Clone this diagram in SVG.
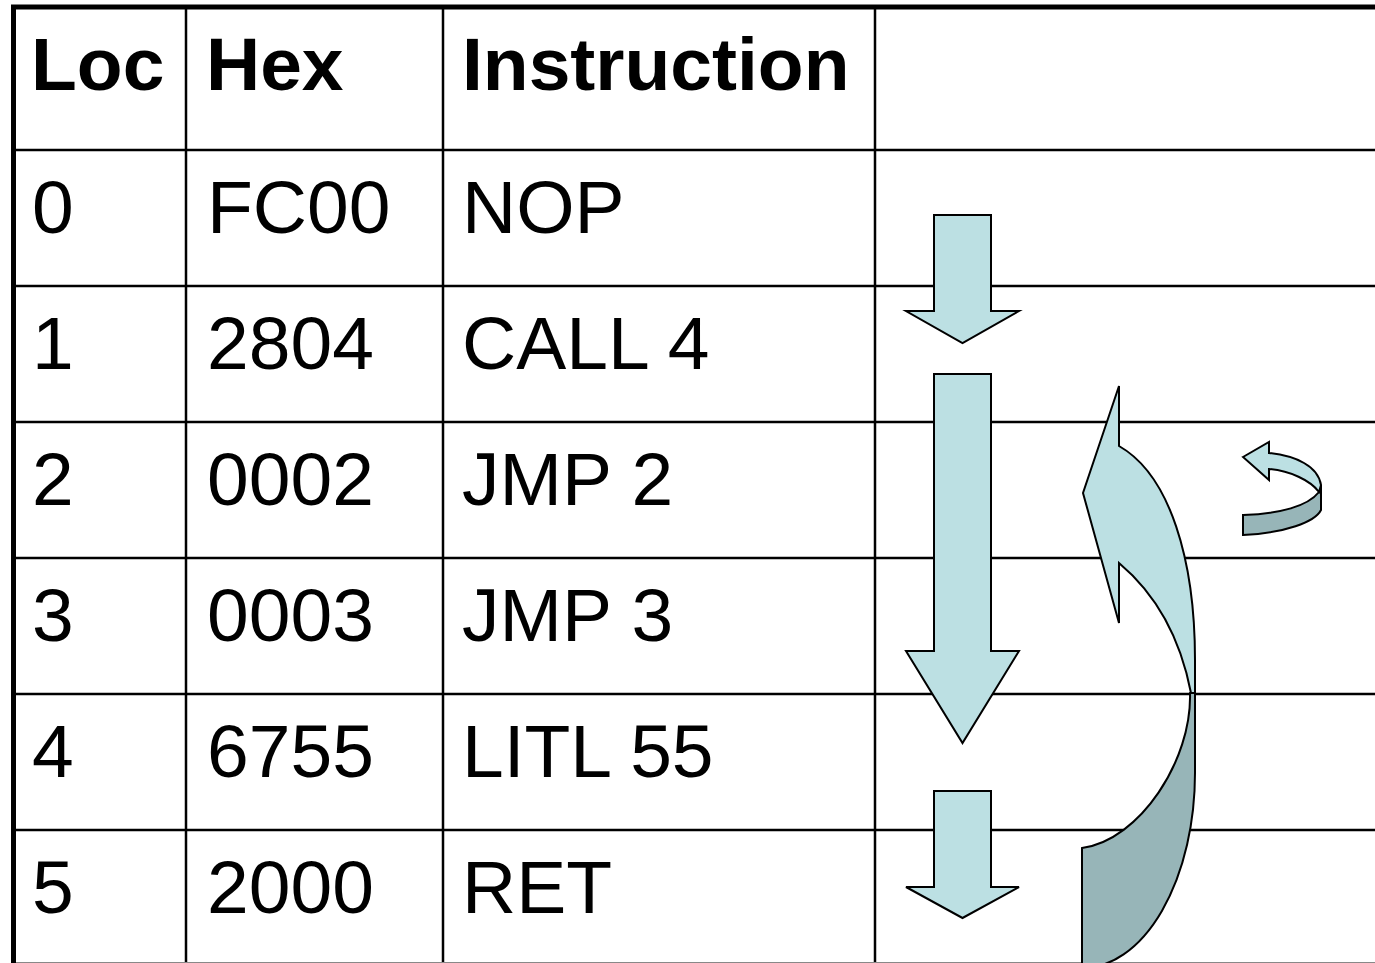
<svg xmlns="http://www.w3.org/2000/svg" width="1375" height="963" viewBox="0 0 1375 963">
<style>
.grid{stroke:#000;stroke-width:2.5;fill:none}
.border{stroke:#000;stroke-width:5;fill:none}
.hd{font-family:"Liberation Sans",Arial,sans-serif;font-size:75px;font-weight:bold;fill:#000}
.tx{font-family:"Liberation Sans",Arial,sans-serif;font-size:75px;fill:#000}
.lt{fill:#BCE0E3;stroke:#000;stroke-width:2;stroke-linejoin:miter}
.dk{fill:#97B5B8;stroke:#000;stroke-width:2;stroke-linejoin:miter}
</style>
<rect width="1375" height="963" fill="#fff"/>
<g id="table">
<line class="grid" x1="13" y1="150" x2="1375" y2="150"/>
<line class="grid" x1="13" y1="286" x2="1375" y2="286"/>
<line class="grid" x1="13" y1="422" x2="1375" y2="422"/>
<line class="grid" x1="13" y1="558" x2="1375" y2="558"/>
<line class="grid" x1="13" y1="694" x2="1375" y2="694"/>
<line class="grid" x1="13" y1="830" x2="1375" y2="830"/>
<line class="grid" x1="186" y1="7" x2="186" y2="963"/>
<line class="grid" x1="443" y1="7" x2="443" y2="963"/>
<line class="grid" x1="875" y1="7" x2="875" y2="963"/>
<line x1="13" y1="962.5" x2="1375" y2="962.5" stroke="#888" stroke-width="1"/>
<line class="border" x1="11" y1="7" x2="1375" y2="7"/>
<line class="border" x1="13.5" y1="5" x2="13.5" y2="963"/>
</g>
<g id="header">
<text class="hd" x="31" y="90">Loc</text>
<text class="hd" x="206" y="90">Hex</text>
<text class="hd" x="462" y="90">Instruction</text>
</g>
<g id="row0"><text class="tx" x="32" y="233">0</text><text class="tx" x="207" y="233">FC00</text><text class="tx" x="462" y="233">NOP</text></g>
<g id="row1"><text class="tx" x="32" y="369">1</text><text class="tx" x="207" y="369">2804</text><text class="tx" x="462" y="369">CALL 4</text></g>
<g id="row2"><text class="tx" x="32" y="505">2</text><text class="tx" x="207" y="505">0002</text><text class="tx" x="462" y="505">JMP 2</text></g>
<g id="row3"><text class="tx" x="32" y="641">3</text><text class="tx" x="207" y="641">0003</text><text class="tx" x="462" y="641">JMP 3</text></g>
<g id="row4"><text class="tx" x="32" y="777">4</text><text class="tx" x="207" y="777">6755</text><text class="tx" x="462" y="777">LITL 55</text></g>
<g id="row5"><text class="tx" x="32" y="913">5</text><text class="tx" x="207" y="913">2000</text><text class="tx" x="462" y="913">RET</text></g>
<g id="connectors">
<path id="arrow-down-1" class="lt" d="M934,215 L991,215 L991,311 L1019,311 L962.5,343 L906,311 L934,311 Z"/>
<path id="arrow-down-2" class="lt" d="M934,374 L991,374 L991,651 L1019,651 L962.5,743 L906,651 L934,651 Z"/>
<path id="arrow-down-3" class="lt" d="M934,791 L991,791 L991,887 L1019,887 L962.5,918 L906,887 L934,887 Z"/>
<g id="arrow-return">
<path class="dk" d="M1190,693 C1192,760 1140,840 1082,848 L1082,968 A113 195 0 0 0 1195,773 L1195,690 Z"/>
<path class="lt" d="M1119,386 L1083,493 L1119,623 L1119,563 Q1175,610 1191,693 L1195,693 L1195,660 C1195,560 1170,475 1119,446 Z"/>
</g>
<g id="arrow-loop">
<path class="dk" d="M1319,492 C1308,506 1280,514 1243,515 L1243,535 C1285,533 1315,522 1321,510 L1321,485 Z"/>
<path class="lt" d="M1243,457 L1269,442 L1269,453 C1296,456 1318,466 1321,485 L1319,492 C1310,480 1290,471 1269,469 L1269,480 Z"/>
</g>
</g>
</svg>
